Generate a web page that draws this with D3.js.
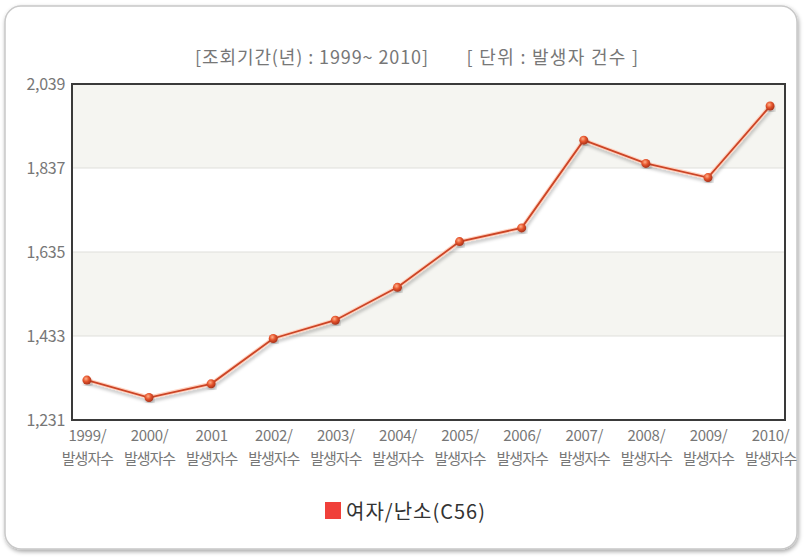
<!DOCTYPE html>
<html><head><meta charset="utf-8">
<script src="https://cdn.jsdelivr.net/npm/d3@7"></script>
<style>
html,body{margin:0;padding:0;background:#fff;}
text{font-family:"Noto Sans CJK KR","Noto Sans",sans-serif;}
</style></head>
<body>
<svg id="c" width="805" height="557"></svg>
<script>
const years = ["1999/","2000/","2001","2002/","2003/","2004/","2005/","2006/","2007/","2008/","2009/","2010/"];
const subLabel = "발생자수";
const values = [1327,1285,1318,1427,1471,1550,1660,1693,1904,1848,1814,1986];
const yTicks = [1231,1433,1635,1837,2039];
const seriesName = "여자/난소(C56)";
const titleLeft = "[조회기간(년) : 1999~ 2010]";
const titleRight = "[ 단위 : 발생자 건수 ]";

const svg = d3.select("#c");
const defs = svg.append("defs");
const sh = defs.append("filter").attr("id","boxsh").attr("x","-5%").attr("y","-5%").attr("width","110%").attr("height","110%");
sh.append("feDropShadow").attr("dx",1).attr("dy",2).attr("stdDeviation",2).attr("flood-color","#000").attr("flood-opacity",0.35);
const lsh = defs.append("filter").attr("id","lsh").attr("x","-10%").attr("y","-10%").attr("width","120%").attr("height","120%");
lsh.append("feDropShadow").attr("dx",1).attr("dy",3).attr("stdDeviation",1.5).attr("flood-color","#000").attr("flood-opacity",0.2);
const rg = defs.append("radialGradient").attr("id","mk").attr("cx","40%").attr("cy","35%").attr("r","65%");
rg.append("stop").attr("offset","0%").attr("stop-color","#ffb08a");
rg.append("stop").attr("offset","50%").attr("stop-color","#e5542c");
rg.append("stop").attr("offset","100%").attr("stop-color","#a8321a");

// outer box
svg.append("rect").attr("x",5).attr("y",6).attr("width",792).attr("height",543).attr("rx",16)
  .attr("fill","#fff").attr("stroke","#c8c8c8").attr("stroke-width",1.5).attr("filter","url(#boxsh)");

const L=72, R=785, T=84, B=420;
const x = d3.scalePoint().domain(years).range([L,R]).padding(0.24);
const y = d3.scaleLinear().domain([yTicks[0], yTicks[yTicks.length-1]]).range([B,T]);

// bands
const g = svg.append("g");
for (let i=0;i<yTicks.length-1;i++){
  g.append("rect").attr("x",L).attr("width",R-L)
   .attr("y",y(yTicks[i+1])).attr("height",y(yTicks[i])-y(yTicks[i+1]))
   .attr("fill", i%2===1 ? "#f5f5f1" : "#ffffff");
}
// grid
g.selectAll("line.grid").data(yTicks.slice(1,-1)).join("line")
  .attr("x1",L).attr("x2",R).attr("y1",d=>y(d)).attr("y2",d=>y(d))
  .attr("stroke","#e0e0dc").attr("stroke-width",1.2);

// frame
svg.append("rect").attr("x",L).attr("y",T).attr("width",R-L).attr("height",B-T)
  .attr("fill","none").attr("stroke","#3a3a3a").attr("stroke-width",2);

// y axis labels
const yAxis = d3.axisLeft(y).tickValues(yTicks).tickFormat(d3.format(",")).tickSize(0).tickPadding(7);
const ya = svg.append("g").attr("transform",`translate(${L},0)`).call(yAxis);
ya.select(".domain").remove();
ya.selectAll("text").attr("fill","#777").attr("font-size",16).attr("letter-spacing","-0.3")
  .attr("font-family","'Noto Sans CJK KR',sans-serif");

// x axis labels
const xAxis = d3.axisBottom(x).tickSize(0).tickPadding(0).tickFormat("");
const xa = svg.append("g").attr("transform",`translate(0,${B})`).call(xAxis);
xa.select(".domain").remove();
xa.selectAll(".tick").each(function(d){
  const t = d3.select(this);
  t.append("text").attr("y",21).attr("text-anchor","middle").attr("fill","#777").attr("font-size",15)
   .attr("letter-spacing","-0.3").text(d);
  t.append("text").attr("y",44).attr("text-anchor","middle").attr("fill","#777").attr("font-size",15)
   .attr("letter-spacing","-1").text(subLabel);
});

// line
const line = d3.line().x((d,i)=>x(years[i])).y(d=>y(d));
svg.append("path").datum(values).attr("d",line).attr("fill","none")
  .attr("stroke","#ffd2c0").attr("stroke-width",4).attr("filter","url(#lsh)");
svg.append("path").datum(values).attr("d",line).attr("fill","none")
  .attr("stroke","#cc4526").attr("stroke-width",1.8);
svg.selectAll("circle.pt").data(values).join("circle").attr("class","pt")
  .attr("cx",(d,i)=>x(years[i])).attr("cy",d=>y(d)).attr("r",4.5)
  .attr("fill","url(#mk)").attr("filter","url(#lsh)");

// title
svg.append("text").attr("x",312).attr("y",64).attr("text-anchor","middle").attr("fill","#777")
  .attr("font-size",18).attr("letter-spacing","0.9").text(titleLeft);
svg.append("text").attr("x",553).attr("y",64).attr("text-anchor","middle").attr("fill","#777")
  .attr("font-size",18).attr("letter-spacing","1.3").text(titleRight);

// legend
svg.append("rect").attr("x",325).attr("y",502).attr("width",16).attr("height",17).attr("fill","#f0403a");
svg.append("text").attr("x",346).attr("y",519).attr("fill","#333").attr("font-size",20).attr("letter-spacing","1").text(seriesName);
</script>
</body></html>
